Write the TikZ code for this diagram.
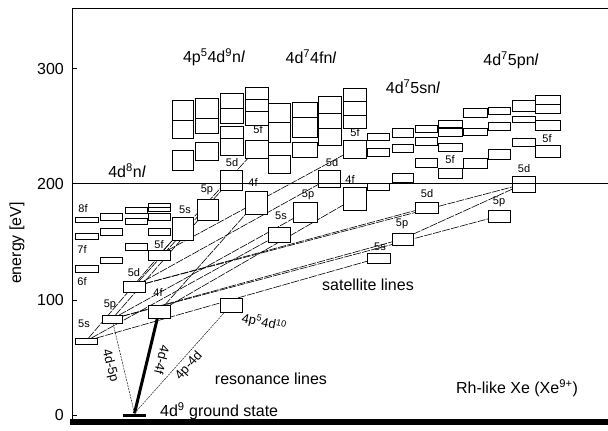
\documentclass[tikz,border=0pt]{standalone}
\usepackage{fontspec}
\setmainfont{Liberation Sans}
\usetikzlibrary{backgrounds}
\newcommand\bx[5]{\node[bx,minimum width={(#4-#2)*1pt},minimum height={(#5-#3)*1pt}] (#1) at ({(#2+#4)/2},{(#3+#5)/2}) {};}
\newcommand\colbx[4]{\foreach \ya/\yb [count=\k] in {#4}{\bx{#1-\k}{#2}{\ya}{#3}{\yb}}}
\begin{document}
\begin{tikzpicture}[x=1pt,y=-1pt,
  bx/.style={draw,fill=white,line width=0.9pt,inner sep=0pt,outer sep=0pt},
  lab/.style={font=\fontsize{16}{18}\selectfont,inner sep=0pt},
  sm/.style={font=\fontsize{11}{12}\selectfont,inner sep=0pt},
  tl/.style={font=\fontsize{13}{14}\selectfont,inner sep=0pt},
  sat/.style={line width=0.6pt,dash pattern=on 8pt off 1.2pt},
  res/.style={line width=0.6pt,dash pattern=on 2pt off 1pt,black!80},
  ax/.style={line width=1pt}]
\useasboundingbox (0,0) rectangle (608,431);
% 4d8 nl
\colbx{A}{75}{98}{217/222,233/239,265/272}
\colbx{B}{100}{122}{213/220,228/235,257/263}
\colbx{C}{125}{147}{207/213,218/224,243/250}
\colbx{D}{148}{170}{203/207,207/211,213/220,228/235}
\bx{s8}{75}{338}{97}{344}
\bx{p8}{102}{315}{122}{323}
\bx{d8}{123}{281}{145}{292}
\bx{f8}{148}{305}{170}{318}
\bx{F8}{148}{250}{170}{260}
\bx{q}{220}{298}{242}{312}
% 4p5 4d9 nl
\colbx{c1}{172}{193}{100/120,120/138,150/170}
\colbx{c2}{195}{218}{98/118,118/133,142/160}
\colbx{c3}{220}{243}{93/108,108/123,126/138,138/155}
\colbx{c4}{245}{268}{87/99,99/111,111/125}
\bx{s9}{172}{217}{193}{240}
\bx{p9}{197}{199}{218}{220}
\bx{d9}{220}{170}{242}{190}
\bx{f9}{245}{191}{267}{214}
\bx{F9}{245}{140}{268}{158}
% 4d7 4f nl
\colbx{c5}{268}{290}{103/122,122/142,155/173}
\colbx{c6}{292}{317}{102/117,117/137,142/157}
\colbx{c7}{318}{341}{96/113,113/128,128/145}
\colbx{c8}{343}{366}{88/101,101/115,115/128}
\bx{s4}{268}{227}{290}{242}
\bx{p4}{293}{202}{317}{222}
\bx{d4}{318}{170}{340}{187}
\bx{f4}{343}{187}{366}{210}
\bx{F4}{343}{140}{366}{158}
% 4d7 5s nl
\colbx{e1}{367}{389}{133/140,148/156,183/190}
\colbx{e2}{392}{413}{128/137,144/152,173/182}
\colbx{e3}{415}{437}{125/132,137/145,158/167}
\colbx{e4}{438}{462}{120/127,128/136,143/151}
\bx{F5}{438}{168}{462}{178}
\bx{s5}{367}{253}{390}{263}
\bx{p5}{392}{233}{413}{245}
\bx{d5}{415}{202}{438}{213}
% 4d7 5p nl
\colbx{g1}{463}{487}{108/117,128/135,158/168}
\colbx{g2}{488}{510}{107/114,122/130,149/159}
\colbx{g3}{512}{535}{100/111,116/122,138/146}
\colbx{g4}{535}{560}{95/104,104/113,120/130}
\bx{F6}{535}{145}{560}{157}
\bx{p6}{488}{210}{510}{222}
\bx{d6}{512}{176}{535}{192}
% ground state
\node[fill,minimum width=23pt,minimum height=3pt,inner sep=0pt] (gs) at (134.5,415) {};
% connectors
\begin{pgfonlayer}{background}
\foreach \a/\b in {s8/s9,s8/s4,s8/s5,p8/p9,p8/p4,p8/p5,p8/p6,d8/d9,d8/d4,d8/d5,d8/d6,f8/f9,f8/f4,F8/F9,F8/F4,p5/d6}
  \draw[sat] (\a) -- (\b);
\draw[res] (gs.north) -- (p8);
\draw[line width=3pt] (gs.north) -- (f8);
\draw[res] (gs.north) -- (q);
\end{pgfonlayer}
% frame
\draw[ax] (608,8) -- (72,8) -- (72,423);
\draw[line width=1pt] (72,183.5) -- (608,183.5);
\draw[line width=6pt] (70,422) -- (608,422);
\foreach \y/\t in {68.5/300,183.5/200,300/100,415/0}{
  \draw[line width=0.8pt] (72,\y) -- (77,\y);
  \node[lab,anchor=east] (tick\t) at (64,\y) {\t};}
% texts
\node[lab,rotate=90] (ylab) at (17,243) {energy [eV]};
\node[lab] (t4d8) at (127,171) {4d\textsuperscript{8}n\textit{l}};
\node[lab] (t4p5) at (214,57) {4p\textsuperscript{5}4d\textsuperscript{9}n\textit{l}};
\node[lab] (t4f) at (311,57) {4d\textsuperscript{7}4fn\textit{l}};
\node[lab] (t5s) at (413,87) {4d\textsuperscript{7}5sn\textit{l}};
\node[lab] (t5p) at (511,60) {4d\textsuperscript{7}5pn\textit{l}};
\node[lab] (tsat) at (368,285) {satellite lines};
\node[lab] (tres) at (271,379) {resonance lines};
\node[lab,anchor=west] (tgs) at (160,411) {4d\textsuperscript{9} ground state};
\node[lab] (trh) at (517,388) {Rh-like Xe (Xe\textsuperscript{9+})};
\node[tl,rotate=-12] (tq) at (264,323) {4p\textsuperscript{5}4d\textsuperscript{10}};
\node[tl,rotate=-76] (r1) at (110,366) {4d-5p};
\node[tl,rotate=-103] (r2) at (162,360) {4d-4f};
\node[tl,rotate=48] (r3) at (189,366) {4p-4d};
\foreach \x/\y/\t [count=\i] in {83/209/8f,82/250/7f,82/282/6f,84/324/5s,110/305/5p,134/273/5d,158/293/4f,159/245/5f,
  185/210/5s,207/190/5p,232/163/5d,253/183/4f,258/130/5f,
  281/216/5s,308/195/5p,332/163/5d,350/180/4f,355/133/5f,
  380/247/5s,402/224/5p,427/194/5d,450/160/5f,
  499/202/5p,524/169/5d,547/139/5f}
  \node[sm] (bl\i) at (\x,\y) {\t};
\end{tikzpicture}
\end{document}
